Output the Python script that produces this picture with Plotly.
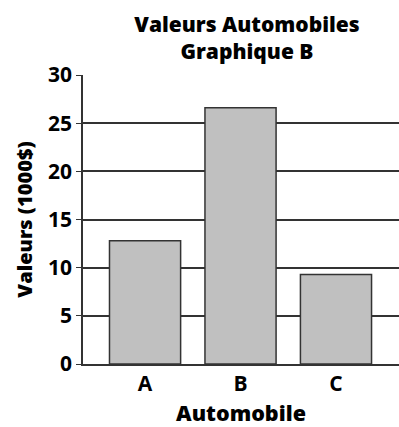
import plotly.graph_objects as go

categories = ["A", "B", "C"]
values = [12.8, 26.6, 9.3]
y_ticks = [0, 5, 10, 15, 20, 25, 30]

FONT = "Open Sans"
INK = "#000000"
LINE = "#333333"

fig = go.Figure()
fig.add_trace(go.Bar(
    x=[0, 1, 2], y=values,
    width=0.745,
    marker=dict(color="#c0c0c0", line=dict(color=LINE, width=1.5)),
    showlegend=False,
))

fig.update_layout(
    width=399, height=427,
    margin=dict(l=83, r=0, t=75, b=63),
    paper_bgcolor="white", plot_bgcolor="white",
    title=dict(
        text="Valeurs Automobiles<br>Graphique B",
        x=247/399, xref="container", xanchor="center",
        y=1 - 32/427, yref="container", yanchor="middle",
        font=dict(family=FONT, size=21, color=INK, weight=800),
    ),
    xaxis=dict(
        range=[-0.65, 2.66],
        tickmode="array", tickvals=[0, 1, 2], ticktext=categories,
        showgrid=False, zeroline=False,
        showline=True, linecolor=LINE, linewidth=1.5,
        ticks="", ticklabelstandoff=0,
        tickfont=dict(family=FONT, size=21, color=INK, weight=700),
        title=dict(text="Automobile", standoff=15,
                   font=dict(family=FONT, size=21.5, color=INK, weight=800)),
    ),
    yaxis=dict(
        range=[0, 30],
        tickmode="array", tickvals=y_ticks,
        showgrid=True, gridcolor=LINE, gridwidth=1.5,
        zeroline=False,
        showline=True, linecolor=LINE, linewidth=1.5,
        ticks="outside", ticklen=5, tickcolor=LINE, tickwidth=1,
        tickfont=dict(family=FONT, size=21, color=INK, weight=700),
        title=dict(text="Valeurs (1000$)", standoff=10,
                   font=dict(family=FONT, size=20, color=INK, weight=800)),
    ),
)

fig.write_html("out.html", config={"displayModeBar": False},
               post_script="document.body.style.margin='0';")
